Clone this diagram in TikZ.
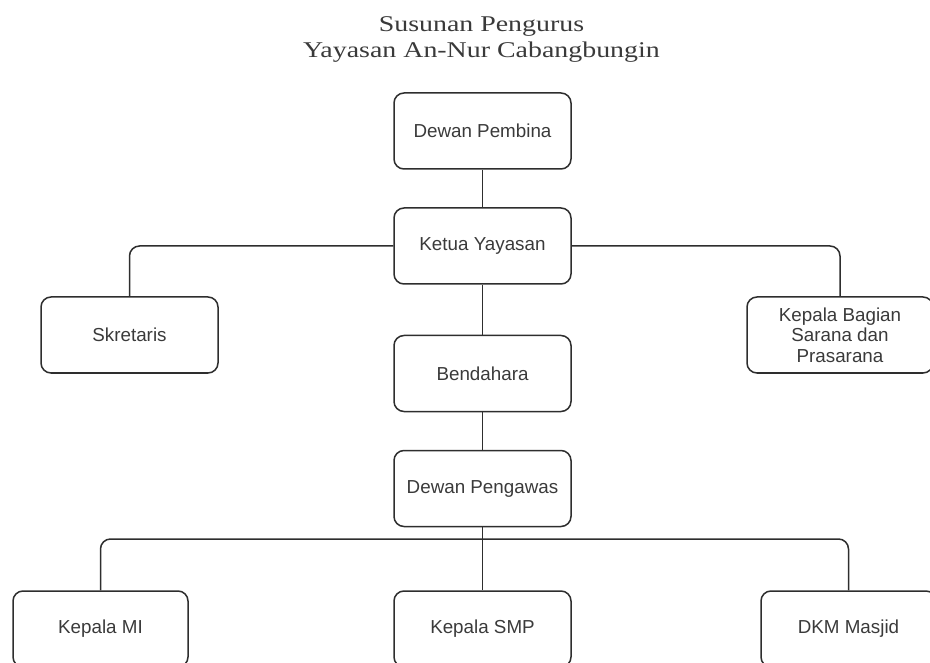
\documentclass[tikz,border=0pt]{standalone}
\usepackage{fontspec}
\setmainfont{Liberation Serif}
\setsansfont{Liberation Sans}
\usepackage{tikz}
\usetikzlibrary{positioning}

\definecolor{garisabu}{HTML}{2E2E2E}
\definecolor{teksabu}{HTML}{3A3A3A}

\tikzset{
    jabatan/.style={draw=garisabu, line width=1.5pt, rounded corners=10pt,
        minimum width=177pt, minimum height=76pt, inner sep=0pt,
        align=center, text=teksabu, font=\sffamily\fontsize{18.8}{20.5}\selectfont},
    garis/.style={draw=garisabu, line width=1.5pt, rounded corners=10pt}
}

\begin{document}
\begin{tikzpicture}[x=1pt, y=-1pt]

\useasboundingbox (0,0) rectangle (930,663);

% Judul
\node[font=\fontsize{22.5}{26}\selectfont, text=teksabu, align=center] (judul) at (481.5,39)
    {\scalebox{1.24}[1]{Susunan Pengurus}\\\scalebox{1.24}[1]{Yayasan An-Nur Cabangbungin}};

% Jalur tengah
\node[jabatan] (pembina) at (482.5,131) {Dewan Pembina};
\node[jabatan] (ketua) at (482.5,246) {Ketua Yayasan};
\node[jabatan] (bendahara) at (482.5,373.5) {Bendahara};
\node[jabatan] (pengawas) at (482.5,488.5) {Dewan Pengawas};

% Samping ketua
\node[jabatan] (skretaris) at (129.5,335) {Skretaris};
\node[jabatan, minimum width=186pt] (kabag) at (840,335) {Kepala Bagian\\Sarana dan\\Prasarana};

% Baris bawah
\node[jabatan, minimum width=175pt] (mi) at (100.5,629) {Kepala MI};
\node[jabatan] (smp) at (482.5,629) {Kepala SMP};
\node[jabatan, minimum width=175pt] (dkm) at (848.5,629) {DKM Masjid};

\coordinate (cabang) at (482.5,539);

% Garis
\draw[garis] (pembina) -- (ketua);
\draw[garis] (ketua) -- (bendahara);
\draw[garis] (bendahara) -- (pengawas);
\draw[garis] (ketua.west) -| (skretaris.north);
\draw[garis] (ketua.east) -| (kabag.north);
\draw[garis] (pengawas.south) -- (cabang);
\draw[garis] (cabang) -| (mi.north);
\draw[garis] (cabang) -- (smp.north);
\draw[garis] (cabang) -| (dkm.north);

\end{tikzpicture}
\end{document}
